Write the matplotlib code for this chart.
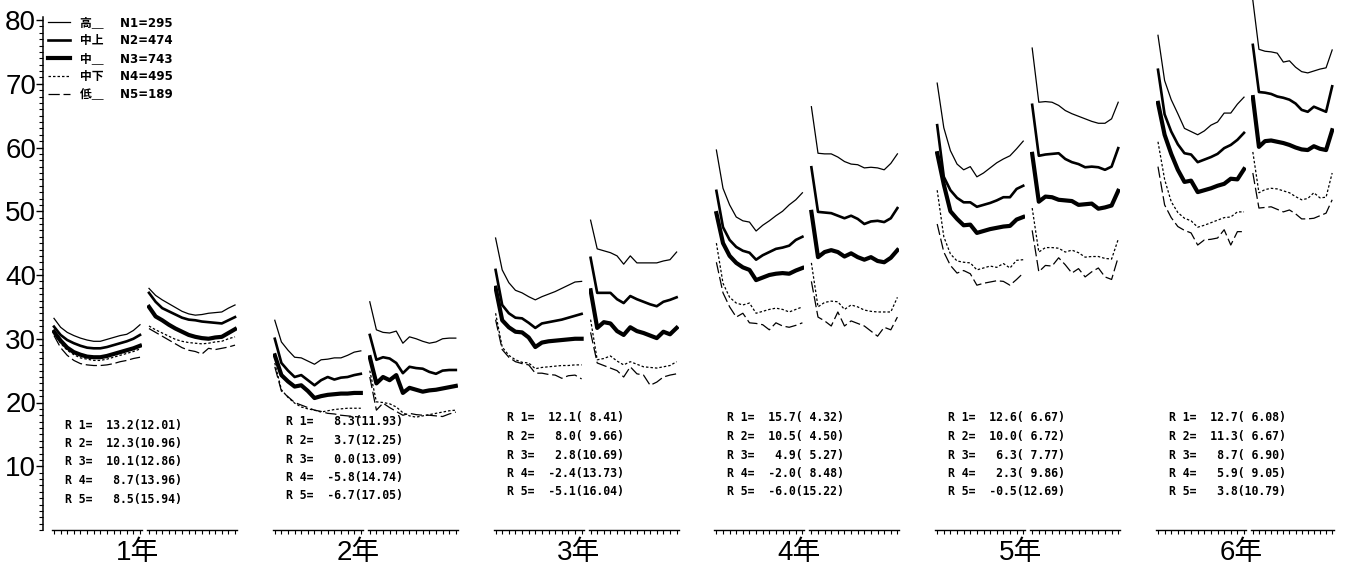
import matplotlib
matplotlib.use("Agg")
import matplotlib.pyplot as plt

plt.rcParams['font.family'] = ['Liberation Sans', 'Noto Sans CJK JP']

years = ["1年", "2年", "3年", "4年", "5年", "6年"]
groups = ["高＿", "中上", "中＿", "中下", "低＿"]
n_counts = [295, 474, 743, 495, 189]

# R k = mean(sd) per year, group 1..5
r_mean = [[13.2, 12.3, 10.1, 8.7, 8.5],
          [8.3, 3.7, 0.0, -5.8, -6.7],
          [12.1, 8.0, 2.8, -2.4, -5.1],
          [15.7, 10.5, 4.9, -2.0, -6.0],
          [12.6, 10.0, 6.3, 2.3, -0.5],
          [12.7, 11.3, 8.7, 5.9, 3.8]]
r_sd = [[12.01, 10.96, 12.86, 13.96, 15.94],
        [11.93, 12.25, 13.09, 14.74, 17.05],
        [8.41, 9.66, 10.69, 13.73, 16.04],
        [4.32, 4.50, 5.27, 8.48, 15.22],
        [6.67, 6.72, 7.77, 9.86, 12.69],
        [6.08, 6.67, 6.90, 9.05, 10.79]]

# curves: first half (a) and second half (b) of each year, 14 points each
high_a = [[33.2, 31.8, 31.0, 30.5, 30.1, 29.8, 29.6, 29.6, 29.9, 30.2, 30.5, 30.7, 31.3, 32.2],
          [32.9, 29.5, 28.2, 27.1, 27.0, 26.5, 26.0, 26.7, 26.8, 27.0, 27.0, 27.4, 27.9, 28.1],
          [45.8, 40.8, 38.8, 37.6, 37.2, 36.6, 36.1, 36.6, 37.0, 37.4, 37.9, 38.4, 38.9, 39.0],
          [59.6, 53.6, 51.0, 49.1, 48.5, 48.3, 46.9, 47.8, 48.5, 49.3, 50.0, 51.0, 51.8, 52.9],
          [70.1, 63.1, 59.5, 57.4, 56.5, 57.0, 55.4, 56.0, 56.8, 57.6, 58.2, 58.7, 59.8, 61.0],
          [77.6, 70.5, 67.5, 65.3, 63.0, 62.5, 62.0, 62.6, 63.5, 64.0, 65.4, 65.4, 66.8, 67.9]]
high_b = [[37.9, 36.8, 36.1, 35.5, 34.9, 34.3, 33.9, 33.7, 33.8, 34.0, 34.1, 34.2, 34.8, 35.3],
          [35.8, 31.4, 31.0, 30.9, 31.2, 29.3, 30.3, 30.0, 29.6, 29.3, 29.5, 30.0, 30.1, 30.1],
          [48.6, 44.1, 43.8, 43.5, 43.0, 41.7, 43.0, 41.9, 41.9, 41.9, 41.9, 42.2, 42.4, 43.6],
          [66.4, 59.1, 59.0, 59.0, 58.5, 57.8, 57.4, 57.3, 56.8, 56.9, 56.8, 56.5, 57.5, 59.0],
          [75.6, 67.1, 67.2, 67.1, 66.6, 65.8, 65.3, 64.9, 64.5, 64.1, 63.8, 63.8, 64.5, 67.1],
          [83.1, 75.4, 75.1, 75.0, 74.8, 73.4, 73.6, 72.6, 71.9, 71.7, 72.0, 72.3, 72.5, 75.3]]
upper_mid_a = [[31.9, 30.6, 29.8, 29.3, 28.9, 28.6, 28.5, 28.5, 28.7, 29.0, 29.3, 29.6, 30.0, 30.6],
               [30.0, 26.2, 25.0, 24.0, 24.3, 23.5, 22.7, 23.5, 24.0, 23.6, 23.9, 24.0, 24.3, 24.5],
               [40.8, 35.3, 34.0, 33.3, 33.2, 32.5, 31.7, 32.4, 32.6, 32.8, 33.0, 33.3, 33.6, 33.9],
               [53.2, 47.5, 45.5, 44.4, 43.8, 43.5, 42.4, 43.1, 43.6, 44.1, 44.3, 44.6, 45.5, 46.0],
               [63.5, 55.4, 53.3, 52.1, 51.4, 51.4, 50.7, 51.0, 51.3, 51.7, 52.2, 52.2, 53.5, 54.0],
               [72.2, 65.2, 62.5, 60.5, 59.1, 58.9, 57.7, 58.1, 58.5, 59.0, 59.9, 60.4, 61.2, 62.3]]
upper_mid_b = [[37.2, 35.8, 34.8, 34.3, 33.8, 33.3, 33.0, 32.9, 32.7, 32.6, 32.5, 32.4, 32.9, 33.4],
               [30.6, 26.7, 27.1, 26.9, 26.2, 24.6, 25.6, 25.4, 25.3, 24.8, 24.5, 25.0, 25.1, 25.1],
               [42.7, 37.2, 37.2, 37.2, 36.2, 35.6, 36.7, 36.2, 35.8, 35.4, 35.1, 35.8, 36.1, 36.5],
               [56.9, 49.9, 49.8, 49.7, 49.3, 48.9, 49.3, 48.8, 48.0, 48.4, 48.5, 48.3, 48.9, 50.5],
               [66.7, 58.7, 58.9, 59.0, 59.1, 58.2, 57.7, 57.4, 56.9, 57.0, 56.9, 56.5, 57.0, 59.9],
               [76.1, 68.7, 68.6, 68.4, 68.0, 67.8, 67.5, 66.9, 65.9, 65.6, 66.4, 66.0, 65.6, 69.6]]
mid_a = [[31.1, 29.7, 28.6, 27.9, 27.5, 27.2, 27.1, 27.1, 27.3, 27.6, 27.9, 28.2, 28.5, 28.9],
         [27.4, 24.3, 23.3, 22.5, 22.7, 21.8, 20.7, 21.0, 21.2, 21.3, 21.4, 21.4, 21.5, 21.5],
         [38.0, 32.9, 31.8, 31.1, 31.0, 30.2, 28.7, 29.4, 29.6, 29.7, 29.8, 29.9, 30.0, 30.0],
         [49.7, 45.0, 43.0, 41.9, 41.2, 40.8, 39.2, 39.6, 40.0, 40.2, 40.3, 40.2, 40.7, 41.1],
         [59.1, 54.2, 50.0, 48.8, 47.8, 47.9, 46.6, 46.9, 47.2, 47.4, 47.6, 47.7, 48.7, 49.1],
         [67.0, 62.0, 59.0, 56.5, 54.6, 54.8, 53.0, 53.3, 53.6, 54.0, 54.3, 55.1, 55.0, 56.6]]
mid_b = [[35.0, 33.5, 32.9, 32.2, 31.6, 31.1, 30.6, 30.3, 30.1, 30.0, 30.2, 30.3, 30.9, 31.5],
         [27.1, 23.0, 24.0, 23.5, 24.3, 21.5, 22.3, 22.0, 21.7, 21.9, 22.0, 22.2, 22.4, 22.6],
         [37.6, 31.7, 32.6, 32.4, 31.2, 30.6, 31.8, 31.2, 30.9, 30.5, 30.1, 31.1, 30.7, 31.7],
         [49.9, 42.8, 43.6, 43.9, 43.6, 42.9, 43.4, 42.8, 42.4, 42.8, 42.2, 42.0, 42.7, 43.9],
         [59.0, 51.5, 52.3, 52.2, 51.8, 51.7, 51.6, 51.0, 51.1, 51.2, 50.4, 50.6, 50.9, 53.2],
         [67.9, 60.1, 61.0, 61.1, 60.9, 60.7, 60.4, 60.0, 59.7, 59.6, 60.2, 59.8, 59.6, 62.7]]
lower_mid_a = [[30.8, 29.3, 28.2, 27.5, 27.0, 26.8, 26.6, 26.6, 26.8, 27.1, 27.4, 27.7, 28.0, 28.4],
               [26.2, 22.0, 20.8, 19.9, 19.3, 19.0, 18.8, 18.5, 18.7, 18.9, 19.0, 19.1, 19.1, 19.1],
               [34.0, 28.7, 27.4, 26.7, 26.3, 26.2, 25.3, 25.5, 25.6, 25.7, 25.8, 25.8, 25.9, 25.9],
               [45.0, 38.7, 36.5, 35.6, 35.3, 35.6, 34.0, 34.3, 34.6, 34.8, 34.6, 34.2, 34.6, 35.0],
               [53.3, 46.0, 43.3, 42.2, 42.0, 41.9, 40.8, 41.1, 41.4, 41.2, 41.8, 41.1, 42.3, 42.4],
               [60.9, 55.0, 51.5, 49.8, 48.9, 48.5, 47.5, 47.8, 48.2, 48.6, 49.0, 49.1, 49.9, 49.9]]
lower_mid_b = [[32.0, 31.4, 30.9, 30.4, 29.9, 29.6, 29.4, 29.3, 29.2, 29.3, 29.5, 29.6, 30.0, 30.3],
               [25.0, 20.1, 20.0, 19.8, 19.3, 18.4, 17.9, 17.7, 17.9, 18.1, 18.3, 18.5, 18.7, 18.8],
               [33.0, 26.7, 26.9, 27.3, 26.5, 25.9, 26.4, 26.0, 25.6, 25.5, 25.4, 25.6, 25.8, 26.4],
               [41.9, 35.0, 35.7, 35.9, 35.8, 34.6, 35.3, 35.0, 34.5, 34.3, 34.2, 34.2, 34.2, 36.5],
               [50.5, 43.6, 44.3, 44.3, 44.2, 43.6, 43.9, 43.5, 42.8, 42.9, 42.9, 42.6, 42.5, 45.6],
               [59.3, 52.9, 53.4, 53.6, 53.5, 53.2, 52.9, 52.3, 51.8, 52.0, 52.9, 52.1, 52.2, 56.0]]
low_a = [[30.5, 28.6, 27.4, 26.6, 26.1, 25.9, 25.8, 25.8, 25.9, 26.1, 26.4, 26.6, 26.9, 27.1],
         [25.6, 21.8, 20.9, 20.0, 19.6, 19.2, 18.8, 18.6, 18.3, 18.2, 18.0, 17.9, 17.8, 17.7],
         [33.0, 28.3, 27.1, 26.4, 26.1, 25.9, 24.6, 24.6, 24.4, 24.3, 23.8, 24.2, 24.3, 23.7],
         [42.0, 37.2, 35.0, 33.4, 34.0, 32.5, 32.4, 32.2, 31.4, 32.5, 32.0, 31.8, 32.1, 32.5],
         [48.0, 43.6, 41.5, 40.3, 40.7, 40.2, 38.4, 38.7, 38.9, 39.1, 39.0, 38.4, 39.3, 40.3],
         [57.0, 51.0, 49.0, 47.6, 47.0, 46.6, 44.7, 45.5, 45.6, 45.8, 47.1, 44.7, 46.8, 46.8]]
low_b = [[31.6, 31.0, 30.4, 29.8, 29.2, 28.6, 28.2, 28.0, 27.6, 28.5, 28.3, 28.5, 28.7, 29.0],
         [24.0, 18.8, 19.9, 19.2, 18.6, 18.0, 18.3, 18.1, 18.0, 18.0, 17.9, 17.8, 18.2, 18.5],
         [31.0, 26.2, 25.8, 25.4, 25.0, 24.0, 25.6, 24.5, 24.3, 22.7, 23.2, 24.0, 24.3, 24.5],
         [39.0, 33.4, 32.8, 32.0, 34.2, 32.0, 32.8, 32.4, 32.0, 31.2, 30.4, 31.8, 31.4, 33.4],
         [47.0, 40.5, 41.5, 41.4, 42.7, 41.6, 40.3, 41.0, 39.7, 40.5, 41.1, 39.7, 39.3, 42.8],
         [56.0, 50.5, 50.6, 50.7, 50.3, 49.9, 50.2, 49.6, 48.8, 48.8, 48.9, 49.3, 49.7, 51.8]]

series_a = [high_a, upper_mid_a, mid_a, lower_mid_a, low_a]
series_b = [high_b, upper_mid_b, mid_b, lower_mid_b, low_b]
styles = [dict(lw=0.9, ls='-'),
          dict(lw=1.9, ls='-'),
          dict(lw=3.0, ls='-'),
          dict(lw=0.9, ls=(0, (2, 1.6))),
          dict(lw=0.9, ls=(0, (9, 3)))]

W, H = 1345, 574
ZERO_PX = 530          # pixel row of value 0
PX_PER_UNIT = 6.375    # pixels per y unit
YEAR_STEP = 220.8

def fy(px):
    return 1 - px / H

fig = plt.figure(figsize=(W / 100, H / 100), dpi=100)

# y axis
ax = fig.add_axes([43 / W, fy(ZERO_PX), 0.002, 80.4 * PX_PER_UNIT / H])
ax.set_ylim(0, 80.4)
ax.set_xticks([])
for s in ['top', 'right', 'bottom']:
    ax.spines[s].set_visible(False)
ax.spines['left'].set_linewidth(1.1)
ax.set_yticks(range(10, 81, 10))
ax.set_yticks(range(0, 81), minor=True)
ax.tick_params(axis='y', which='major', length=5, width=1, labelsize=20, pad=0)
ax.tick_params(axis='y', which='minor', length=3, width=0.8)
ax.patch.set_visible(False)

legend_handles = None
for i in range(6):
    for h, series in enumerate([series_a, series_b]):
        left = 52 + YEAR_STEP * i + 95 * h
        width = 83 if (i == 5 and h == 1) else 90
        pax = fig.add_axes([left / W, fy(ZERO_PX), width / W, 84 * PX_PER_UNIT / H])
        pax.set_xlim(-0.3, 13.3)
        pax.set_ylim(0, 84)
        pax.patch.set_visible(False)
        for s in ['top', 'right', 'left']:
            pax.spines[s].set_visible(False)
        pax.spines['bottom'].set_linewidth(1.0)
        pax.set_yticks([])
        pax.set_xticks(range(14))
        pax.tick_params(axis='x', length=3, width=0.8, labelbottom=False)
        lines = []
        for g in range(5):
            ln, = pax.plot(range(14), series[g][i], color='black', **styles[g])
            lines.append(ln)
        if legend_handles is None:
            legend_handles = lines

# R texts
r_top_px = [425, 422, 418, 418, 418, 418]
for i in range(6):
    for k in range(5):
        fig.text((65 + YEAR_STEP * i) / W, fy(r_top_px[i] + 18.5 * k),
                 f"R {k + 1}={r_mean[i][k]:6.1f}({r_sd[i][k]:5.2f})",
                 family='DejaVu Sans Mono', fontsize=8.3, weight='bold',
                 va='center', ha='left')

# year labels
for i, yr in enumerate(years):
    fig.text((137 + YEAR_STEP * i) / W, fy(553), yr, ha='center', va='center', fontsize=20)

labels = [f"{g}    N{k + 1}={n}" for k, (g, n) in enumerate(zip(groups, n_counts))]
fig.legend(legend_handles, labels, loc='upper left', bbox_to_anchor=(48 / W, fy(16)),
           frameon=False, handlelength=1.9, handletextpad=0.8, labelspacing=0.42,
           borderaxespad=0, borderpad=0,
           prop=dict(family=['DejaVu Sans', 'Noto Sans CJK JP'], size=8.5, weight='bold'))

fig.savefig("out.png", dpi=100)
